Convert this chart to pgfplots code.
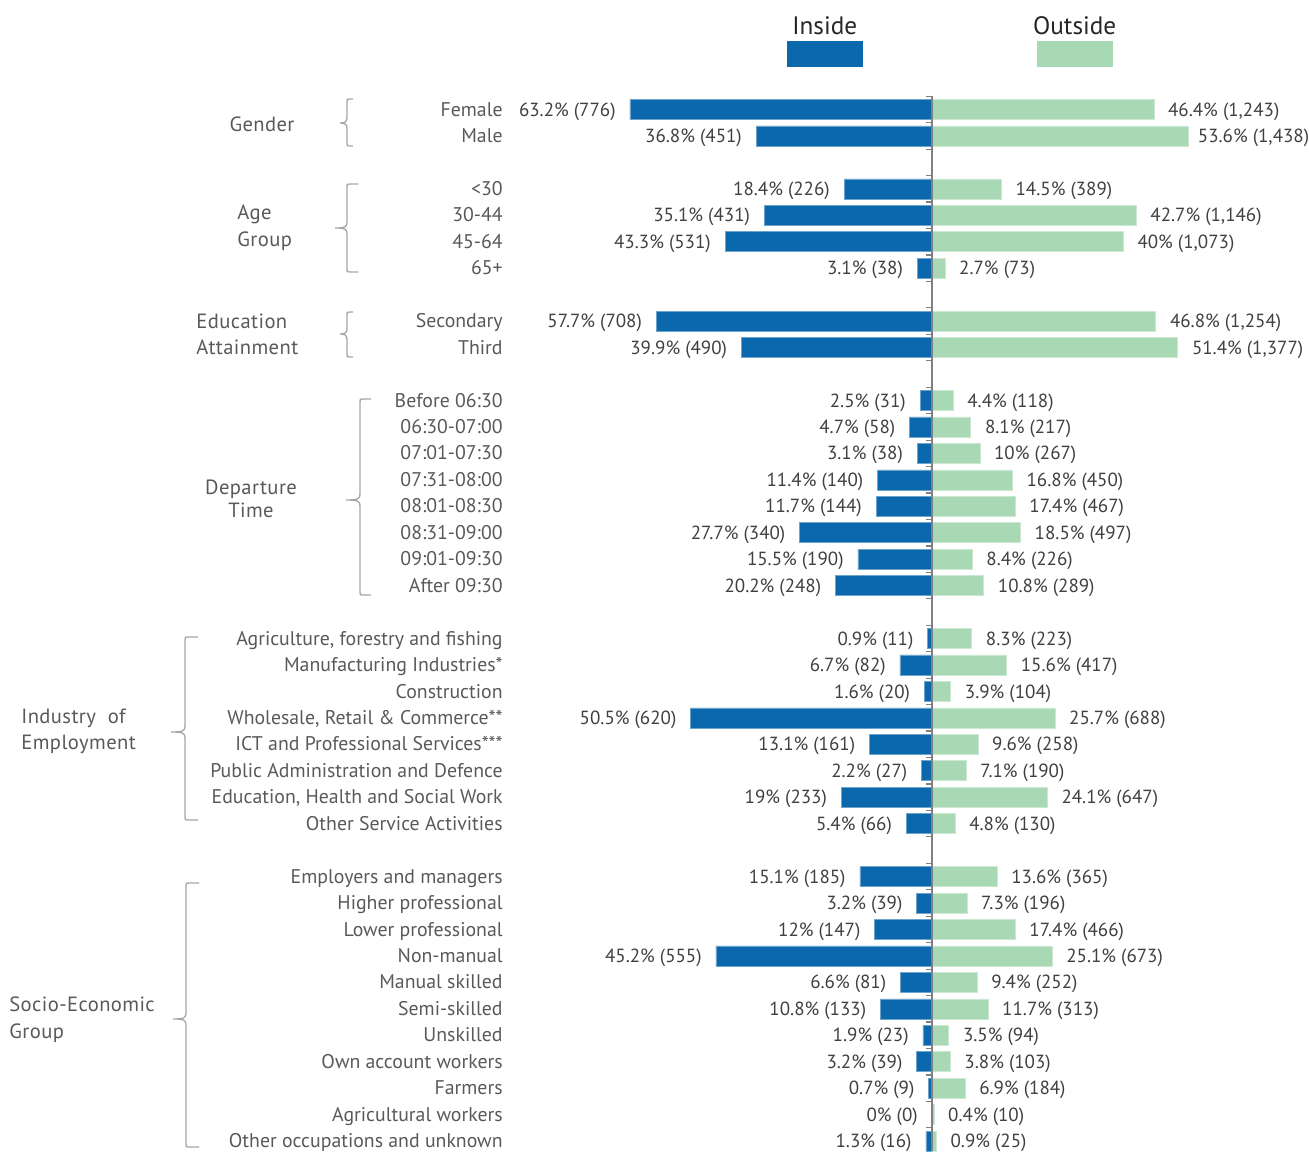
\documentclass[border=0pt]{standalone}
\usepackage{pgfplots}
\pgfplotsset{compat=1.18}
\usepackage{pgfplotstable}
\usepackage{fontspec}
\setmainfont{PT Sans}

\definecolor{incol}{HTML}{0B68AD}
\definecolor{outcol}{HTML}{A9D8B4}
\definecolor{labgray}{HTML}{595959}
\definecolor{valgray}{HTML}{404040}
\definecolor{bracegray}{HTML}{A6A6A6}
\definecolor{axgray}{HTML}{808080}

\newcommand\lf{\fontsize{9.5}{11}\selectfont}
\newcommand\cf{\fontsize{9.9}{11}\selectfont}
\newcommand\gf{\fontsize{10.3}{12}\selectfont\addfontfeatures{LetterSpace=2}}

% ogap = distance (pt) between an outside bar and its label
\pgfplotstableread{
row inpct inn outpct outn ogap
0  63.2 776 46.4 1243 7
1  36.8 451 53.6 1438 4.7
3  18.4 226 14.5 389  7
4  35.1 431 42.7 1146 7
5  43.3 531 40   1073 7
6  3.1  38  2.7  73   7
8  57.7 708 46.8 1254 7
9  39.9 490 51.4 1377 7
11 2.5  31  4.4  118  7
12 4.7  58  8.1  217  7
13 3.1  38  10   267  7
14 11.4 140 16.8 450  7
15 11.7 144 17.4 467  7
16 27.7 340 18.5 497  7
17 15.5 190 8.4  226  7
18 20.2 248 10.8 289  7
20 0.9  11  8.3  223  7
21 6.7  82  15.6 417  7
22 1.6  20  3.9  104  7
23 50.5 620 25.7 688  7
24 13.1 161 9.6  258  7
25 2.2  27  7.1  190  7
26 19   233 24.1 647  7
27 5.4  66  4.8  130  7
29 15.1 185 13.6 365  7
30 3.2  39  7.3  196  7
31 12   147 17.4 466  7
32 45.2 555 25.1 673  7
33 6.6  81  9.4  252  7
34 10.8 133 11.7 313  7
35 1.9  23  3.5  94   7
36 3.2  39  3.8  103  7
37 0.7  9   6.9  184  7
38 0    0   0.4  10   7
39 1.3  16  0.9  25   7
}\datatable

% brace: xr, xv, tip x, top, bottom, mid  (pixel units)
\newcommand\grpbrace[6]{%
  \draw[bracegray, line width=0.65pt]
    (#1,#4) -- ({#2+3},#4) .. controls (#2,#4) .. (#2,{#4+3})
    -- (#2,{#6-6}) .. controls (#2,{#6-1}) and ({#2-2},#6) .. (#3,#6)
    .. controls ({#2-2},#6) and (#2,{#6+1}) .. (#2,{#6+6})
    -- (#2,{#5-3}) .. controls (#2,#5) .. ({#2+3},#5) -- (#1,#5);}

\begin{document}
\begin{tikzpicture}
\begin{axis}[
  scale only axis,
  width=654.5pt, height=575.5pt,
  xmin=-194.98, xmax=78.87,
  ymin=-4.140, ymax=39.376,
  y dir=reverse,
  axis line style={draw=none},
  tick style={draw=none},
  major tick length=0pt,
  xtick=\empty,
  ytick={0,1,3,4,5,6,8,9,11,12,13,14,15,16,17,18,20,21,22,23,24,25,26,27,29,30,31,32,33,34,35,36,37,38,39},
  yticklabels={Female,Male,<30,30-44,45-64,65+,Secondary,Third,
    Before 06:30,06:30-07:00,07:01-07:30,07:31-08:00,08:01-08:30,08:31-09:00,09:01-09:30,After 09:30,
    {Agriculture, forestry and fishing},Manufacturing Industries*,Construction,{Wholesale, Retail \& Commerce**},
    ICT and Professional Services***,Public Administration and Defence,{Education, Health and Social Work},Other Service Activities,
    Employers and managers,Higher professional,Lower professional,Non-manual,Manual skilled,Semi-skilled,Unskilled,
    Own account workers,Farmers,Agricultural workers,Other occupations and unknown},
  yticklabel style={anchor=base east, inner sep=0pt, xshift=251.5pt, yshift=-3.3pt, text=labgray, font=\cf},
  /pgf/number format/.cd, 1000 sep={,}, assume math mode=true,
  /pgfplots/.cd,
  clip=false,
  every node near coord/.append style={font=\lf, text=valgray, inner sep=0pt},
]
\addplot[xbar, bar shift=0pt, bar width=10pt, fill=incol, draw=white!40!incol, line width=0.3pt,
  point meta=\thisrow{inpct},
  visualization depends on={\thisrow{inn} \as \cnt},
  nodes near coords={\pgfmathprintnumber{\pgfplotspointmeta}\%{} (\pgfmathprintnumber{\cnt})},
  every node near coord/.append style={anchor=base east, xshift=-7pt, yshift=-3.3pt}]
  table[x expr=-\thisrow{inpct}, y=row] {\datatable};
\addplot[xbar, bar shift=0pt, bar width=10pt, fill=outcol, draw=white!40!outcol, line width=0.3pt,
  point meta=\thisrow{outpct},
  visualization depends on={\thisrow{outn} \as \cnt},
  visualization depends on={\thisrow{ogap} \as \gap},
  nodes near coords={\pgfmathprintnumber{\pgfplotspointmeta}\%{} (\pgfmathprintnumber{\cnt})},
  every node near coord/.append style={anchor=base west, xshift=\gap pt, yshift=-3.3pt}]
  table[x=outpct, y=row] {\datatable};
\coordinate (TL) at (axis description cs:0,1);
\coordinate (BR) at (axis description cs:1,0);
\end{axis}

\begin{scope}[shift={(TL)}, x=0.5pt, y=-0.5pt]
  % centre line with ticks at category boundaries
  \draw[axgray, line width=0.65pt] (932,96.3) -- (932,1151);
  \foreach \r in {0,...,40}
    \draw[axgray, line width=0.6pt] (932,{109.5+26.45*(\r-0.5)}) -- ++(-6,0);

  % legend
  \fill[incol] (787,41.5) rectangle (862.5,67.5);
  \fill[outcol] (1037,41.5) rectangle (1112.5,67.5);
  \node[anchor=base, inner sep=0pt, font=\fontsize{12.6}{14}\selectfont, text=black!85] at (824.7,35) {Inside};
  \node[anchor=base, inner sep=0pt, font=\fontsize{12.6}{14}\selectfont, text=black!85] at (1074.7,35) {Outside};

  % group braces
  \grpbrace{353}{347}{340}{99}{146}{123}
  \grpbrace{358}{347}{335}{184}{272}{228}
  \grpbrace{353}{347}{340}{312}{357}{334}
  \grpbrace{371}{360}{346}{399}{595}{500}
  \grpbrace{198}{185}{171}{637}{820}{732}
  \grpbrace{199}{186}{173}{883}{1147}{1019}

  % group labels
  \begin{scope}[every node/.style={inner sep=0pt, text=labgray, font=\gf}]
    \node[anchor=base] at (262,132) {Gender};
    \node[anchor=base west] at (237,219.5) {Age};
    \node[anchor=base west] at (237,246.5) {Group};
    \node[anchor=base west] at (196,328.5) {Education};
    \node[anchor=base west] at (196,355) {Attainment};
    \node[anchor=base] at (251,494) {Departure};
    \node[anchor=base] at (251,517.5) {Time};
    \node[anchor=base west] at (21,723) {Industry\ \ of};
    \node[anchor=base west] at (21,749.5) {Employment};
    \node[anchor=base west] at (9,1011.5) {Socio-Economic};
    \node[anchor=base west] at (9,1038.5) {Group};
  \end{scope}
\end{scope}

\pgfresetboundingbox
\path[use as bounding box] (TL) rectangle (BR);
\end{tikzpicture}
\end{document}
